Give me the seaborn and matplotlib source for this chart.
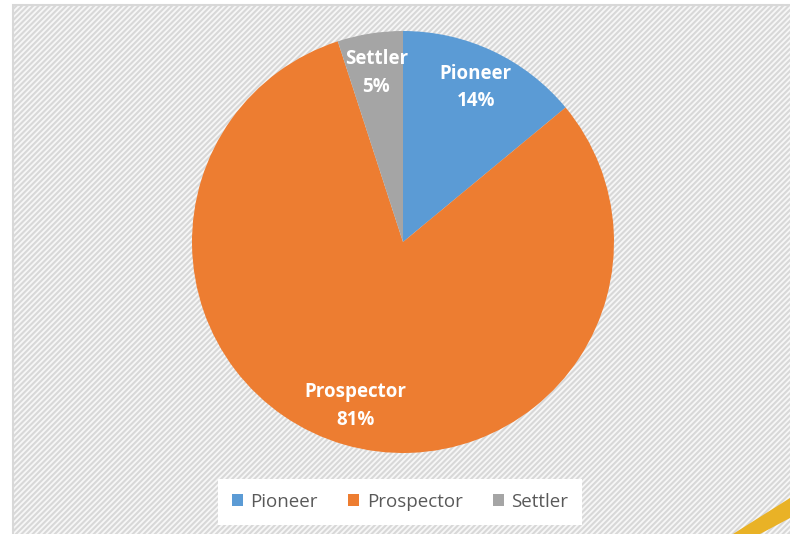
import matplotlib
matplotlib.use("Agg")
import seaborn as sns
from matplotlib import pyplot as plt
from matplotlib.patches import Rectangle, Polygon

# === data ===
categories = ["Pioneer", "Prospector", "Settler"]
shares = [14, 81, 5]
colors = ["#5B9BD5", "#ED7D31", "#A5A5A5"]

sns.set_theme(style="white")
plt.rcParams["font.family"] = ["Open Sans", "DejaVu Sans"]
plt.rcParams["hatch.linewidth"] = 1.5
plt.rcParams["hatch.color"] = "#ffffff"

W, H = 790, 534
fig = plt.figure(figsize=(W / 100, H / 100), dpi=100)
fig.patch.set_facecolor("white")

# faint hatched chart area with thin grey border
frame = Rectangle((13 / W, -0.02), 1.0, 1 - 5 / H + 0.02, transform=fig.transFigure,
                  facecolor="#f7f7f7", edgecolor="#d8d8d8", linewidth=1.5,
                  hatch="//////", zorder=0)
fig.add_artist(frame)

# yellow corner stripe
stripe = Polygon([(733 / W, 0), (1.0, 1 - 498 / H), (1.0, 1 - 518 / H), (760 / W, 0)],
                 closed=True, transform=fig.transFigure, facecolor="#E9B226",
                 edgecolor="none", zorder=1)
fig.add_artist(stripe)

# === pie ===
r = 211
cx, cy = 403, 242
ax = fig.add_axes([(cx - r) / W, (H - cy - r) / H, 2 * r / W, 2 * r / H])
ax.set_facecolor("none")
labels = [f"{c}\n{s}%" for c, s in zip(categories, shares)]
wedges, texts = ax.pie(shares, colors=colors, startangle=90, counterclock=False,
                       labels=labels, labeldistance=0.81,
                       wedgeprops=dict(linewidth=0))
for t in texts:
    t.set_color("white")
    t.set_fontweight("bold")
    t.set_fontsize(13.5)
    t.set_ha("center")
    t.set_va("center")
    t.set_linespacing(1.5)
ax.set_xlim(-1, 1)
ax.set_ylim(-1, 1)
ax.set_aspect("equal")
ax.axis("off")

# === legend ===
leg = fig.legend(wedges, categories, loc="center", bbox_to_anchor=(400 / W, 1 - 502 / H),
                 ncol=3, frameon=True, fontsize=13.5, handlelength=0.6, handleheight=0.6,
                 handletextpad=0.4, columnspacing=1.6, borderpad=0.75, fancybox=False)
leg.get_frame().set_facecolor("white")
leg.get_frame().set_edgecolor("none")
leg.get_frame().set_alpha(1)
for t in leg.get_texts():
    t.set_color("#595959")

fig.savefig("out.png", dpi=100)
